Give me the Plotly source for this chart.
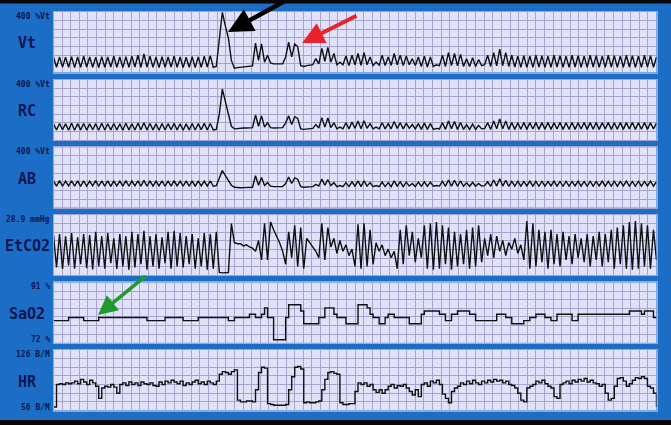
import numpy as np
import plotly.graph_objects as go

# ---------------- data ----------------
# one sample every ~0.7 s over a 140 s window
vt = [140,80,140,82,138,80,142,78,140,80,
      145,82,140,80,138,78,142,80,140,82,
      145,80,140,78,142,80,145,82,150,80,
      158,82,145,80,140,78,142,80,140,82,
      145,80,140,78,138,80,142,78,140,80,
      145,82,148,80,
      85,230,398,320,250,120,75,78,80,82,
      84,86,88,220,120,215,110,150,105,100,
      98,100,100,140,225,140,215,200,90,85,
      90,92,95,130,100,190,115,195,110,160,
      95,110,95,145,90,150,95,160,92,165,
      95,140,90,110,92,150,90,140,92,160,
      95,150,90,145,95,130,90,140,85,145,
      82,140,85,95,90,150,85,165,90,160,
      88,155,85,130,85,135,85,125,90,95,
      150,85,165,88,185,90,165,85,150,82,
      145,80,148,80,145,80,150,82,148,80,
      145,80,150,82,148,80,145,80,150,82,
      148,80,145,80,150,82,148,80,145,80,
      150,82,148,80,145,80,150,82,148,80,
      145,80,150,82,148,80,140]

rc = [145,108,146,110,144,108,147,107,145,109,
      146,108,144,110,145,107,147,108,145,109,
      146,108,145,107,147,109,145,108,148,110,
      150,108,146,109,144,107,146,108,145,110,
      147,108,145,107,144,109,146,108,145,110,
      147,108,146,109,
      112,200,345,270,210,130,115,118,118,120,
      120,122,122,195,130,190,125,150,122,120,
      120,120,122,150,190,140,185,175,115,112,
      115,118,118,140,120,180,125,178,122,150,
      115,125,115,150,115,155,118,160,115,162,
      118,145,115,125,115,150,115,145,115,158,
      118,150,115,148,118,140,115,145,112,148,
      112,145,112,118,115,150,112,160,115,158,
      112,152,112,140,112,142,112,135,115,118,
      150,112,160,115,172,115,160,112,152,112,
      150,113,152,112,150,114,152,112,151,113,
      152,112,150,114,152,112,150,113,152,112,
      150,114,152,112,151,113,152,112,150,114,
      152,112,150,113,152,112,151,114,152,112,
      150,113,152,112,150,114,148]

ab = [205,175,207,174,204,176,206,175,205,173,
      206,175,204,176,207,174,205,175,206,173,
      205,176,204,175,207,174,205,176,206,175,
      208,174,205,175,204,176,206,174,205,175,
      207,176,204,174,205,175,206,173,205,176,
      204,175,206,174,
      178,220,265,235,205,180,168,165,165,166,
      167,168,168,235,180,225,178,195,175,172,
      172,172,172,190,228,190,222,215,172,168,
      170,170,172,185,175,215,180,212,178,195,
      172,178,172,195,172,200,175,205,172,205,
      175,195,172,178,172,198,172,195,172,205,
      175,200,172,198,175,190,172,198,174,200,
      174,198,174,178,175,202,174,210,175,208,
      174,205,174,195,174,196,174,190,175,178,
      200,174,210,175,218,175,208,174,202,175,
      203,175,202,176,204,175,202,174,203,175,
      202,176,204,175,202,174,203,175,202,176,
      204,175,202,174,203,175,202,176,204,175,
      202,174,203,175,202,176,204,175,202,174,
      203,175,202,176,204,175,200]

etco2 = [19.5,4.5,20,3.8,19,5.5,20.5,4,18.5,6,
         20,4.2,19.5,3.6,21,5,19,4,20.5,6.5,
         18,3.8,20,5,19,3.5,21,4.5,20,6,
         21.5,3.5,19,5,20,4,18.5,6.5,21,4,
         21.5,5,20.5,4.5,19,6,20,4,18,5,
         20.5,3.5,20,4,
         21,2.2,2.0,2.0,2.2,24.8,16,15.5,15.5,14.5,
         15,14,13.5,12,17,8,25,8,25.6,22,
         19,16,12,6,21,9,24,5,23,4,
         18,16,14,12,9,25,8,23,14,18,
         11,17,12,15,10,13,5,24.5,4,25,
         5,22,6,16,12,15,10,13,9,12,
         4,22,6,24,10,21,7,18,9,24,
         4,25,3.5,25.5,4,24,6,23,3.5,21,
         5,20,6,22,4,23,5,24,7,18,
         10,20,9,19,12,17,10,16,13,18,
         11,15,8,26,4,25,5,22,7,21,
         4,22,6,20,5,21,8,19,6,20,
         9,18,7,20,5,19,8,21,5,20,
         7,22,4,23,6,24,4,25.5,3.5,26,
         4,25,5,24,4,22,8]

sao2 = [79,79,79,79,79,80,80,80,80,80,
        79,79,79,79,79,80,80,80,80,80,
        80,80,80,80,80,80,80,80,80,80,
        80,79,79,79,79,79,79,80,80,80,
        80,80,80,79,79,79,79,79,80,80,
        80,80,80,80,80,80,80,80,79,79,
        80,80,80,80,80,81,81,80,80,81,
        83,80,80,73,73,73,73,80,84,84,
        84,84,82,78,78,78,78,78,80,80,
        83,83,83,81,80,80,80,78,78,78,
        78,84,84,84,83,81,80,80,78,78,
        80,81,81,80,80,80,80,80,78,78,
        78,78,81,82,82,82,82,82,81,81,
        79,79,81,81,82,82,82,82,81,81,
        79,79,79,79,79,79,79,81,81,81,
        80,80,78,78,78,78,79,79,80,80,
        81,81,81,80,80,79,79,81,81,81,
        81,81,79,79,81,81,81,81,81,81,
        81,81,81,81,81,81,81,81,81,81,
        81,82,82,82,82,81,82,82,82,80,
        80]

hr = [60,86,87,86,88,87,88,90,87,92,
      89,86,91,88,84,70,82,84,83,86,
      83,76,86,88,85,89,86,88,85,89,
      87,86,88,85,84,89,86,90,88,91,
      89,87,90,85,88,86,89,91,87,89,
      86,90,88,86,90,98,101,100,98,101,
      103,68,66,66,67,67,66,80,100,106,
      105,64,63,62,62,62,62,63,80,95,
      106,107,104,65,66,65,65,66,67,80,
      92,100,101,99,98,65,63,63,64,64,
      78,88,86,88,84,86,80,77,80,76,
      80,84,86,82,85,84,86,82,78,74,
      80,72,86,88,84,90,88,91,86,75,
      70,65,78,82,84,88,86,90,87,91,
      88,86,90,88,91,89,92,90,91,88,
      90,86,85,82,76,68,66,82,84,86,
      90,88,91,87,84,82,72,70,86,88,
      90,87,91,89,92,90,93,89,91,88,
      87,84,86,76,68,70,84,93,94,90,
      84,87,91,94,93,95,93,84,82,76,
      60]

channel_names = ["Vt", "RC", "AB", "EtCO2", "SaO2", "HR"]
top_labels = ["400 %Vt", "400 %Vt", "400 %Vt", "28.9 mmHg", "91 %", "126 B/M"]
bottom_labels = ["", "", "", "", "72 %", "56 B/M"]
y_ranges = [[50, 400], [50, 400], [50, 400], [0.9, 28.9], [72, 91], [56, 126]]
window_s = 140

# ---------------- layout constants ----------------
W, H = 671, 425
BLUE = "#1c6dc6"
PANEL_BG = "#dfe2f8"
GRID = "#a8a3cd"
INK = "#101010"
LABEL = "#0c1650"
tops = [12, 79.6, 147.2, 214.8, 282.4, 350]
ph = 60.5
x_left, x_right = 53.5, 656.5
line_shapes = ["linear", "linear", "linear", "linear", "hv", "hv"]
series = [vt, rc, ab, etco2, sao2, hr]

fig = go.Figure()
layout = dict(width=W, height=H, margin=dict(l=0, r=0, t=0, b=0),
              paper_bgcolor=BLUE, plot_bgcolor=PANEL_BG, showlegend=False)

for k, (vals, yr, shp) in enumerate(zip(series, y_ranges, line_shapes)):
    n = k + 1
    xs = "" if n == 1 else str(n)
    t = np.linspace(0, window_s, len(vals))
    fig.add_trace(go.Scatter(x=t, y=vals, mode="lines", line_shape=shp,
                             line=dict(color=INK, width=1.4),
                             xaxis="x" + xs, yaxis="y" + xs, hoverinfo="skip"))
    top = tops[k]
    common = dict(showgrid=True, gridcolor=GRID, gridwidth=1, zeroline=False,
                  showticklabels=False, ticks="", showline=True, linecolor=GRID,
                  linewidth=1, mirror=True, fixedrange=True)
    layout["xaxis" + xs] = dict(domain=[x_left / W, x_right / W], range=[0, window_s],
                               dtick=window_s / 70, tick0=0, anchor="y" + xs, **common)
    layout["yaxis" + xs] = dict(domain=[1 - (top + ph) / H, 1 - top / H], range=yr,
                               dtick=(yr[1] - yr[0]) / 7, tick0=yr[0], anchor="x" + xs, **common)

fig.update_layout(**layout)

ann = []
mono = "DejaVu Sans Mono"
for k in range(6):
    top = tops[k]
    ann.append(dict(x=27 / W, y=1 - (top + 31.5) / H, xref="paper", yref="paper",
                    text="<b>" + channel_names[k] + "</b>", showarrow=False,
                    font=dict(family=mono, size=15, color=LABEL),
                    xanchor="center", yanchor="middle"))
    ann.append(dict(x=52 / W, y=1 - (top + 4.5) / H, xref="paper", yref="paper",
                    text="<b>" + top_labels[k] + "</b>", showarrow=False,
                    font=dict(family=mono, size=8, color=LABEL),
                    xanchor="right", yanchor="middle"))
    if bottom_labels[k]:
        ann.append(dict(x=52 / W, y=1 - (top + 57.5) / H, xref="paper", yref="paper",
                        text="<b>" + bottom_labels[k] + "</b>", showarrow=False,
                        font=dict(family=mono, size=8, color=LABEL),
                        xanchor="right", yanchor="middle"))

# arrows (tip position in pixels, tail offset in pixels)
arrows = [((228, 32), (57, -31), "#000000", 4.5),
          ((302, 43), (56, -28), "#e8232b", 4),
          ((98, 315), (49, -40), "#21992c", 3.5)]
for (tx, ty), (dx, dy), col, wdt in arrows:
    ann.append(dict(x=tx / W, y=1 - ty / H, xref="paper", yref="paper", text="",
                    showarrow=True, ax=dx, ay=dy, arrowhead=2, arrowsize=1.1,
                    arrowwidth=wdt, arrowcolor=col))

fig.update_layout(annotations=ann,
                  shapes=[dict(type="rect", xref="paper", yref="paper", x0=0, x1=1,
                               y0=1 - 3.5 / H, y1=1, fillcolor="#05070a", line_width=0),
                          dict(type="rect", xref="paper", yref="paper", x0=0, x1=1,
                               y0=0, y1=5 / H, fillcolor="#05070a", line_width=0)])

fig.write_html("out.html", config={"displayModeBar": False},
               post_script="document.body.style.margin='0';document.body.style.background='#1c6dc6';")
